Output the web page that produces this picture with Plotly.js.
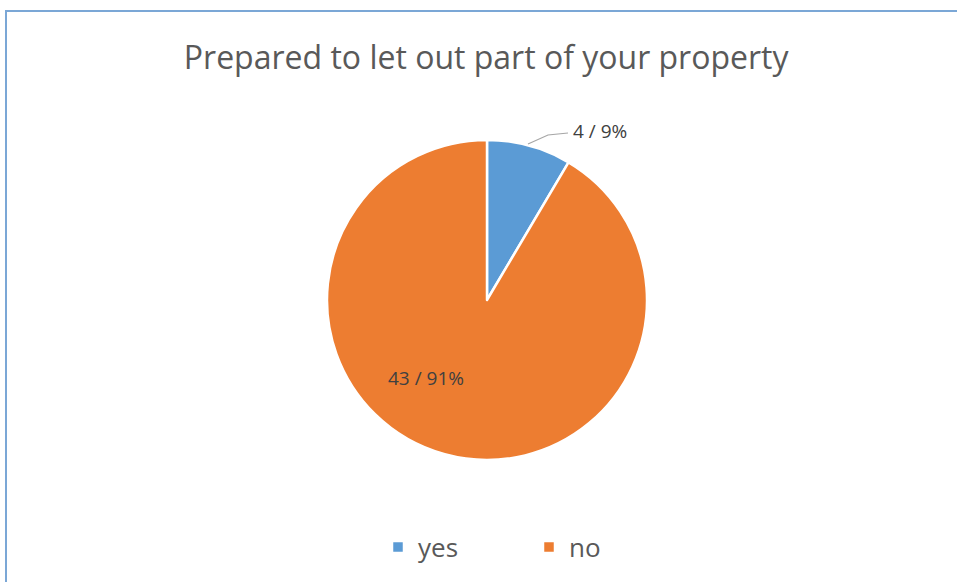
<!DOCTYPE html>
<html>
<head>
<meta charset="utf-8">
<script src="https://cdn.plot.ly/plotly-3.0.1.min.js"></script>
<style>
html,body{margin:0;padding:0;background:#fff;}
#wrap{position:relative;width:957px;height:582px;overflow:hidden;}
#chart{width:957px;height:582px;}
#frame{position:absolute;left:5px;top:10px;width:960px;height:590px;border-left:2px solid #7BA7D6;border-top:2px solid #7BA7D6;pointer-events:none;}
</style>
</head>
<body>
<div id="wrap"><div id="chart"></div><div id="frame"></div></div>
<script>
const categories = ["yes", "no"];
const counts = [4, 43];
const percents = [9, 91];
const colors = ["#5B9BD5", "#ED7D31"];
const chartTitle = "Prepared to let out part of your property";

const labelTexts = counts.map((c, i) => c + " / " + percents[i] + "%");

const trace = {
  type: "pie",
  labels: categories,
  values: counts,
  sort: false,
  direction: "clockwise",
  rotation: 0,
  marker: {colors: colors, line: {color: "#ffffff", width: 2.5}},
  textinfo: "none",
  hoverinfo: "label+value+percent",
  domain: {x: [327/957, 647/957], y: [1 - 460/582, 1 - 140/582]}
};

const FONT = "Open Sans, Noto Sans, sans-serif";

const layout = {
  width: 957, height: 582,
  margin: {l: 0, r: 0, t: 0, b: 0},
  paper_bgcolor: "#ffffff",
  title: {text: chartTitle, x: 0.508, xanchor: "center", y: 1 - 58/582, yanchor: "middle",
          font: {family: FONT, size: 32, color: "#595959"}},
  showlegend: true,
  legend: {orientation: "h", x: 378/957, xanchor: "left", y: 1 - 547/582, yanchor: "middle",
           font: {family: FONT, size: 26, color: "#595959"}, entrywidth: 106, itemwidth: 30},
  annotations: [
    {text: labelTexts[0], x: 600/957, y: 1 - 131/582, xref: "paper", yref: "paper",
     xanchor: "center", yanchor: "middle",
     showarrow: false, font: {family: FONT, size: 19, color: "#404040"}},
    {text: labelTexts[1], x: 426/957, y: 1 - 378/582, xref: "paper", yref: "paper",
     xanchor: "center", yanchor: "middle",
     showarrow: false, font: {family: FONT, size: 19, color: "#404040"}}
  ],
  shapes: [
    {type: "path", xref: "paper", yref: "paper",
     path: "M " + (528/957) + "," + (1 - 144/582) + " L " + (548/957) + "," + (1 - 135/582) + " L " + (568/957) + "," + (1 - 133/582),
     line: {color: "#A6A6A6", width: 1.2}}
  ]
};

Plotly.newPlot("chart", [trace], layout, {displayModeBar: false, staticPlot: true});
</script>
</body>
</html>
